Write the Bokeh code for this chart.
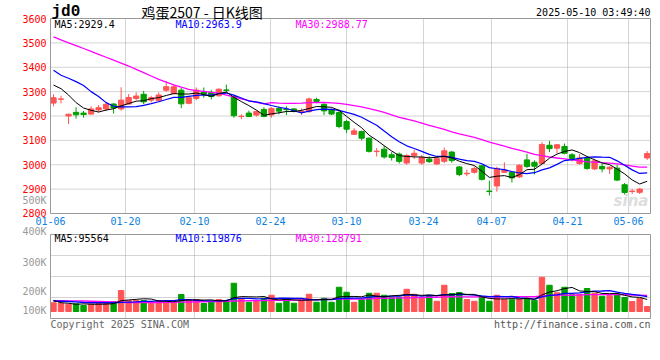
from bokeh.plotting import figure
from bokeh.models import Range1d, Label, ColumnDataSource
from bokeh.embed import file_html
from bokeh.resources import INLINE

# ---------------- data ----------------
dates = ["01-06","01-07","01-08","01-09","01-10","01-13","01-14","01-15","01-16","01-17",
         "01-20","01-21","01-22","01-23","01-24","01-27","02-05","02-06","02-07","02-10",
         "02-11","02-12","02-13","02-14","02-17","02-18","02-19","02-20","02-21","02-24",
         "02-25","02-26","02-27","02-28","03-03","03-04","03-05","03-06","03-07","03-10",
         "03-11","03-12","03-13","03-14","03-17","03-18","03-19","03-20","03-21","03-24",
         "03-25","03-26","03-27","03-28","03-31","04-01","04-02","04-03","04-07","04-08",
         "04-09","04-10","04-11","04-14","04-15","04-16","04-17","04-18","04-21","04-22",
         "04-23","04-24","04-25","04-28","04-29","04-30","05-06","05-07","05-08","05-09"]

opens = [3253,3269,3200,3215,3212,3208,3225,3229,3249,3229,
         3249,3272,3289,3265,3263,3306,3293,3306,3252,3272,
         3299,3297,3283,3307,3280,3198,3212,3204,3227,3204,
         3231,3228,3229,3217,3218,3268,3248,3225,3214,3177,
         3125,3136,3109,3054,3064,3041,3044,3007,3038,3007,
         3023,3003,3014,3052,2991,2963,2969,2996,2892,2913,
         2969,2969,2950,3020,3010,3005,3080,3068,3075,3041,
         3005,3027,2983,2993,2983,2986,2918,2890,2887,3028]
highs = [3289,3283,3210,3236,3221,3240,3245,3256,3253,3318,
         3290,3297,3303,3283,3297,3343,3330,3317,3279,3317,
         3317,3306,3313,3329,3283,3207,3222,3224,3236,3236,
         3240,3240,3233,3231,3276,3275,3252,3231,3225,3184,
         3150,3140,3112,3068,3078,3052,3050,3044,3061,3040,
         3035,3035,3071,3057,2995,2980,2993,3000,2935,2992,
         3010,2973,3002,3045,3018,3093,3098,3083,3087,3048,
         3044,3032,3025,3007,2993,3000,2925,2900,2905,3056]
lows = [3240,3252,3167,3189,3193,3205,3215,3220,3210,3222,
        3246,3265,3248,3256,3258,3299,3289,3232,3248,3265,
        3275,3268,3279,3297,3193,3187,3195,3197,3195,3193,
        3207,3204,3215,3204,3213,3252,3204,3204,3150,3130,
        3122,3100,3050,3034,3025,3017,3005,3000,3023,3000,
        3007,3000,3007,3008,2953,2953,2964,2935,2874,2890,
        2966,2927,2945,2987,2960,3004,3052,3047,3043,3014,
        3000,2980,2978,2969,2962,2933,2878,2880,2880,3020]
closes = [3275,3270,3207,3205,3206,3229,3234,3248,3233,3265,
          3276,3282,3258,3275,3286,3320,3320,3250,3275,3306,
          3290,3280,3310,3305,3201,3199,3198,3218,3198,3231,
          3220,3226,3219,3219,3270,3260,3221,3208,3157,3146,
          3139,3109,3055,3056,3032,3030,3014,3038,3047,3030,
          3013,3025,3057,3017,2960,2965,2985,2940,2890,2985,
          2977,2946,2998,2993,2994,3083,3066,3082,3047,3026,
          3028,2985,3016,2983,2990,2937,2886,2892,2900,3046]
volumes = [70000,66000,58000,62000,48000,58000,64000,64000,78000,168000,
           88000,88000,88000,66000,88000,74000,74000,136000,88000,96000,
           64000,80000,96000,88000,226000,106000,74000,88000,106000,130000,
           66000,94000,66000,94000,138000,74000,106000,74000,194000,154000,
           74000,94000,146000,146000,130000,110000,114000,178000,138000,106000,
           128000,82000,210000,144000,152000,96000,82000,112000,82000,130000,
           98000,94000,98000,106000,90000,274000,210000,150000,194000,134000,
           136000,184000,146000,122000,126000,142000,112000,80000,106000,40000]

ma5_head = [3327, 3312, 3286, 3255]
ma10_head = [3388, 3367, 3355, 3341, 3325, 3300, 3280, 3255, 3240]
ma30_head = [3525, 3512, 3500, 3489, 3477, 3465, 3453, 3441, 3429, 3417,
             3405, 3391, 3378, 3364, 3350, 3339, 3328, 3318, 3309, 3304,
             3301, 3297, 3294, 3286, 3278, 3270, 3263, 3256, 3250]
vma5_head = [88000, 70000, 66000, 58000]
vma10_head = [84000, 82000, 80000, 77000, 72000, 70000, 70000, 70000, 70000]
vma30_head = [86000, 86000, 85000, 85000, 84000, 82000, 80000, 78000, 76000, 74000,
              72000, 71000, 71000, 71000, 72000, 73000, 74000, 75000, 76000, 77000,
              78000, 79000, 80000, 82000, 84000, 85000, 86000, 87000, 88000]

price_ticks = [2800, 2900, 3000, 3100, 3200, 3300, 3400, 3500, 3600]
date_tick_labels = ["01-06", "01-20", "02-10", "02-24", "03-10", "03-24", "04-07", "04-21", "05-06"]
date_tick_pos = [-0.4, 9.58, 18.76, 28.88, 38.99, 49.23, 58.28, 68.4, 76.52]
vol_axis_labels = ["100K", "200K", "300K", "400K"]
vol_axis_pos = [8000, 160000, 392000, 640000]
vol_grid = [112000, 280000, 448000]

title_code = "jd0"
title_text = "鸡蛋2507 - 日K线图"
timestamp = "2025-05-10 03:49:40"
price_ma_text = ["MA5:2929.4", "MA10:2963.9", "MA30:2988.77"]
vol_ma_text = ["MA5:95564", "MA10:119876", "MA30:128791"]

# ---------------- helpers ----------------
def moving_avg(vals, n, head):
    out = list(head)
    for i in range(len(head), len(vals)):
        out.append(sum(vals[i - n + 1:i + 1]) / n)
    return out

RED = "#FF5555"
GREEN = "#00A000"
MONO = "DejaVu Sans Mono"
GRID = "#A8A8A8"
FRAME = "#999999"

idx = list(range(len(dates)))
cols = [RED if c >= o else GREEN for o, c in zip(opens, closes)]
src = ColumnDataSource(dict(
    x=idx, h=highs, l=lows,
    top=[max(o, c) for o, c in zip(opens, closes)],
    bot=[min(o, c) for o, c in zip(opens, closes)],
    col=cols, vol=volumes,
    ma5=moving_avg(closes, 5, ma5_head),
    ma10=moving_avg(closes, 10, ma10_head),
    ma30=moving_avg(closes, 30, ma30_head),
    vma5=moving_avg(volumes, 5, vma5_head),
    vma10=moving_avg(volumes, 10, vma10_head),
    vma30=moving_avg(volumes, 30, vma30_head),
))

# panel extents (index units / price / volume)
X0, X1 = -0.4, 79.44
P0, P1 = 2800, 3600
V0, V1 = -56000, 616000

p = figure(width=652, height=344,
           x_range=Range1d(-7.053, 79.707), y_range=Range1d(2262.56, 3673.85),
           output_backend="svg", toolbar_location=None,
           x_axis_location=None, y_axis_location=None,
           min_border=0, min_border_left=0, min_border_right=0,
           min_border_top=0, min_border_bottom=0)
p.extra_y_ranges = {"vol": Range1d(-264000, 2488000)}
p.background_fill_color = "white"
p.border_fill_color = "white"
p.outline_line_color = None
p.grid.visible = False

def lab(text, x, y, xo, yo, color, size="10px", align="left", font=MONO, style="normal",
        rng="default"):
    p.add_layout(Label(x=x, y=y, x_offset=xo, y_offset=yo, text=text, text_color=color,
                       text_font_size=size, text_align=align, text_baseline="middle",
                       text_font=font, text_font_style=style, y_range_name=rng))

# ---- grids (dotted) ----
vx = date_tick_pos[1:]
p.segment(x0=vx, y0=[P0] * len(vx), x1=vx, y1=[P1] * len(vx),
          line_color=GRID, line_dash="1 1", line_width=1)
hy = price_ticks[1:-1]
p.segment(x0=[X0] * len(hy), y0=hy, x1=[X1] * len(hy), y1=hy,
          line_color=GRID, line_dash="1 1", line_width=1)
p.segment(x0=vx, y0=[V0] * len(vx), x1=vx, y1=[V1] * len(vx),
          line_color=GRID, line_dash="1 1", line_width=1, y_range_name="vol")
p.segment(x0=[X0] * len(vol_grid), y0=vol_grid, x1=[X1] * len(vol_grid), y1=vol_grid,
          line_color=GRID, line_dash="1 1", line_width=1, y_range_name="vol")

# ---- candles ----
p.segment(x0="x", y0="l", x1="x", y1="h", line_color="col", line_width=1, source=src)
p.vbar(x="x", top="top", bottom="bot", width=0.7, fill_color="col", line_color="col",
       line_width=1, source=src)
p.line(x="x", y="ma30", line_color="#FF00FF", line_width=1.3, source=src)
p.line(x="x", y="ma10", line_color="#0000FF", line_width=1.2, source=src)
p.line(x="x", y="ma5", line_color="#000000", line_width=1, source=src)

# ---- volume ----
p.vbar(x="x", top="vol", bottom=0, width=0.72, fill_color="col", line_color="col",
       line_width=1, source=src, y_range_name="vol")
p.line(x="x", y="vma30", line_color="#FF00FF", line_width=1.3, source=src, y_range_name="vol")
p.line(x="x", y="vma10", line_color="#0000FF", line_width=1.3, source=src, y_range_name="vol")
p.line(x="x", y="vma5", line_color="#000000", line_width=1, source=src, y_range_name="vol")

# ---- panel frames ----
p.quad(left=[X0], right=[X1], bottom=[P0], top=[P1], fill_color=None,
       line_color=FRAME, line_width=1)
p.quad(left=[X0], right=[X1], bottom=[V0], top=[V1], fill_color=None,
       line_color=FRAME, line_width=1, y_range_name="vol")

# ---- texts ----
for t in price_ticks:
    lab(str(t), X0, t, -4, 0, "#FF0000", align="right")
for t, s in zip(date_tick_pos, date_tick_labels):
    lab(s, t, P0, 0, -8, "#0A80E0", align="center")
for t, yv in zip(vol_axis_labels, vol_axis_pos):
    lab(t, X0, yv, -4, 0, "#999999", align="right", rng="vol")
lab("500K", X0, 2853, -4, 0, "#999999", align="right")

lab(title_code, X0, P1, 1, 7, "#000000", size="16px", font="Liberation Mono", style="bold")
lab(title_text, X0, P1, 91, 7, "#000000", size="14px", font="Noto Sans CJK SC")
lab(timestamp, X1, P1, 0, 6, "#000000", align="right")
lab(price_ma_text[0], X0, P1, 4, -6, "#000000")
lab(price_ma_text[1], X0, P1, 125, -6, "#0000FF")
lab(price_ma_text[2], X0, P1, 245, -6, "#FF00FF")
lab("sina", X1, P0, -2, 12, "#DDDDDD", size="15px", align="right",
    font="DejaVu Sans", style="bold italic")

lab(vol_ma_text[0], X0, V1, 4, -4, "#000000", rng="vol")
lab(vol_ma_text[1], X0, V1, 125, -4, "#0000FF", rng="vol")
lab(vol_ma_text[2], X0, V1, 245, -4, "#FF00FF", rng="vol")
lab("Copyright 2025 SINA.COM", X0, V0, 0, -6, "#666666", rng="vol")
lab("http://finance.sina.com.cn", X1, V0, 0, -6, "#555555", align="right", rng="vol")

open("out.html", "w").write(file_html(p, INLINE))
